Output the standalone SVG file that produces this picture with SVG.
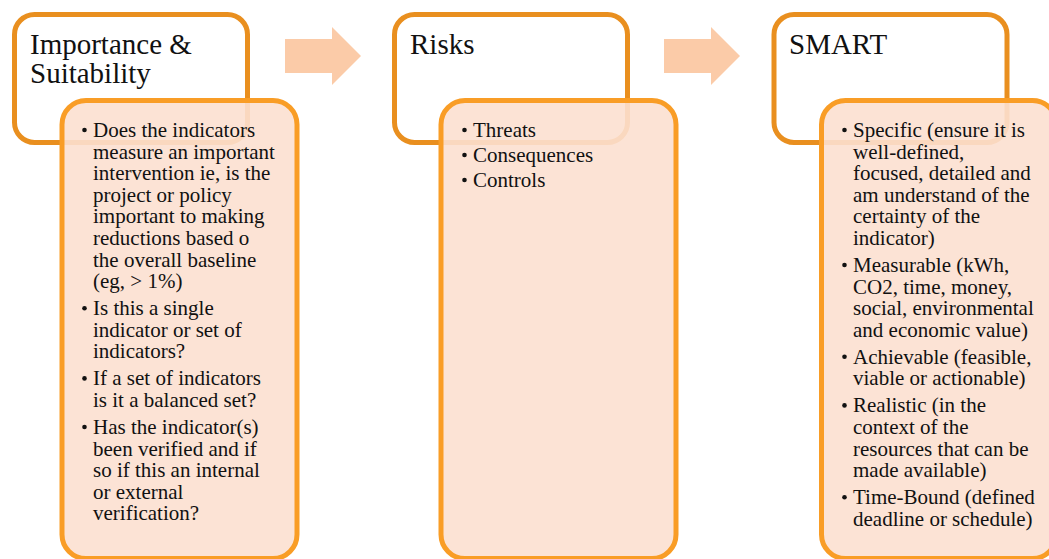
<svg xmlns="http://www.w3.org/2000/svg" width="1049" height="559" viewBox="0 0 1049 559">
<style>
.top{fill:#ffffff;stroke:#E98F1F;stroke-width:5}
.body{fill:#FCE0D0;fill-opacity:0.9;stroke:#F99D26;stroke-width:5}
.arrow{fill:#FBCBA8}
.title{font-family:"Liberation Serif","Times New Roman",serif;font-size:29px;fill:#111}
.txt{font-family:"Liberation Serif","Times New Roman",serif;font-size:21px;fill:#111}
.bul{fill:#111}
</style>
<rect width="1049" height="559" fill="#ffffff"/>
<g id="connectors">
<polygon class="arrow" points="285,39 332,39 332,27 361,56 332,85 332,73 285,73"/>
<polygon class="arrow" points="664,39 711,39 711,27 740,56 711,85 711,73 664,73"/>
</g>
<g id="n1-title">
<rect class="top" x="14.5" y="14.5" width="233" height="128" rx="20"/>
<text class="title" x="30" y="54">Importance &amp;</text>
<text class="title" x="30" y="83">Suitability</text>
</g>
<g id="n2-title">
<rect class="top" x="394.5" y="14.5" width="233" height="128" rx="20"/>
<text class="title" x="410" y="54">Risks</text>
</g>
<g id="n3-title">
<rect class="top" x="774" y="14.5" width="233" height="128" rx="20"/>
<text class="title" x="789" y="54">SMART</text>
</g>
<g id="n1-body">
<rect class="body" x="62" y="100.5" width="235" height="458" rx="24"/>
<g class="bul">
<circle cx="84.5" cy="130" r="2.3"/>
<circle cx="84.5" cy="308.2" r="2.3"/>
<circle cx="84.5" cy="378.4" r="2.3"/>
<circle cx="84.5" cy="427" r="2.3"/>
</g>
<text class="txt">
<tspan x="93" y="137">Does the indicators</tspan>
<tspan x="93" y="158.6">measure an important</tspan>
<tspan x="93" y="180.2">intervention ie, is the</tspan>
<tspan x="93" y="201.8">project or policy</tspan>
<tspan x="93" y="223.4">important to making</tspan>
<tspan x="93" y="245">reductions based o</tspan>
<tspan x="93" y="266.6">the overall baseline</tspan>
<tspan x="93" y="288.2">(eg, &gt; 1%)</tspan>
<tspan x="93" y="315.2">Is this a single</tspan>
<tspan x="93" y="336.8">indicator or set of</tspan>
<tspan x="93" y="358.4">indicators?</tspan>
<tspan x="93" y="385.4">If a set of indicators</tspan>
<tspan x="93" y="407">is it a balanced set?</tspan>
<tspan x="93" y="434">Has the indicator(s)</tspan>
<tspan x="93" y="455.6">been verified and if</tspan>
<tspan x="93" y="477.2">so if this an internal</tspan>
<tspan x="93" y="498.8">or external</tspan>
<tspan x="93" y="520.4">verification?</tspan>
</text>
</g>
<g id="n2-body">
<rect class="body" x="441" y="100.5" width="235" height="458" rx="24"/>
<g class="bul">
<circle cx="464.5" cy="130" r="2.3"/>
<circle cx="464.5" cy="155" r="2.3"/>
<circle cx="464.5" cy="180" r="2.3"/>
</g>
<text class="txt">
<tspan x="473" y="137">Threats</tspan>
<tspan x="473" y="162">Consequences</tspan>
<tspan x="473" y="187">Controls</tspan>
</text>
</g>
<g id="n3-body">
<rect class="body" x="821.5" y="100.5" width="235" height="458" rx="24"/>
<g class="bul">
<circle cx="844.5" cy="130" r="2.3"/>
<circle cx="844.5" cy="265" r="2.3"/>
<circle cx="844.5" cy="356.8" r="2.3"/>
<circle cx="844.5" cy="405.4" r="2.3"/>
<circle cx="844.5" cy="497.2" r="2.3"/>
</g>
<text class="txt">
<tspan x="853" y="137">Specific (ensure it is</tspan>
<tspan x="853" y="158.6">well-defined,</tspan>
<tspan x="853" y="180.2">focused, detailed and</tspan>
<tspan x="853" y="201.8">am understand of the</tspan>
<tspan x="853" y="223.4">certainty of the</tspan>
<tspan x="853" y="245">indicator)</tspan>
<tspan x="853" y="272">Measurable (kWh,</tspan>
<tspan x="853" y="293.6">CO2, time, money,</tspan>
<tspan x="853" y="315.2">social, environmental</tspan>
<tspan x="853" y="336.8">and economic value)</tspan>
<tspan x="853" y="363.8">Achievable (feasible,</tspan>
<tspan x="853" y="385.4">viable or actionable)</tspan>
<tspan x="853" y="412.4">Realistic (in the</tspan>
<tspan x="853" y="434">context of the</tspan>
<tspan x="853" y="455.6">resources that can be</tspan>
<tspan x="853" y="477.2">made available)</tspan>
<tspan x="853" y="504.2">Time-Bound (defined</tspan>
<tspan x="853" y="525.8">deadline or schedule)</tspan>
</text>
</g>
</svg>
